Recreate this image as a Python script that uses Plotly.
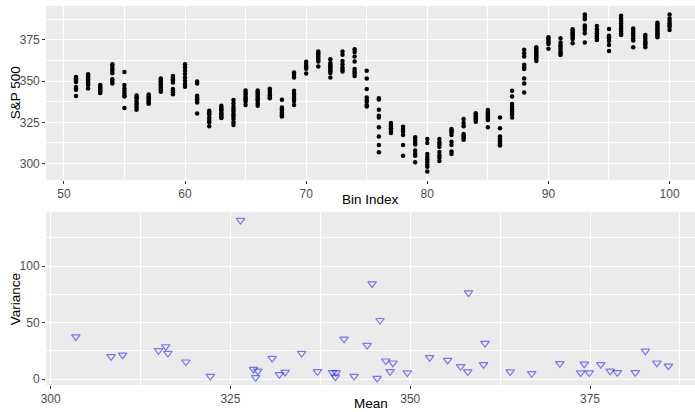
import plotly.graph_objects as go

# S&P 500 closing levels grouped by bin
bin_index = list(range(51, 101))
sp500_by_bin = [
    [352.5, 351.8, 351.0, 350.2, 349.5, 346.5, 345.5, 344.8, 341.0],
    [354.2, 353.2, 352.2, 351.2, 350.2, 349.2, 348.2, 347.6, 345.6],
    [347.6, 346.8, 346.0, 345.2, 344.4, 343.6, 342.8],
    [360.3, 359.3, 357.7, 356.3, 354.8, 351.2, 349.8, 348.6],
    [355.6, 347.6, 345.5, 344.0, 342.5, 341.2, 340.7, 333.7],
    [341.3, 340.2, 339.5, 338.0, 336.5, 335.5, 334.0, 332.7],
    [341.9, 341.0, 340.2, 339.3, 338.5, 337.7, 336.9, 336.3],
    [351.6, 350.8, 350.0, 349.0, 348.0, 347.0, 346.0, 345.0, 343.6],
    [353.2, 352.2, 351.2, 350.2, 349.2, 345.2, 344.2, 343.2, 342.1],
    [360.3, 358.3, 356.3, 354.3, 352.2, 350.2, 348.2, 346.6],
    [349.8, 348.6, 341.1, 340.0, 339.0, 338.0, 337.1, 330.4],
    [332.1, 331.0, 330.0, 328.0, 326.5, 325.0, 322.6],
    [335.1, 334.0, 333.0, 332.0, 331.0, 330.0, 329.0, 328.0, 327.6],
    [338.5, 336.5, 334.5, 333.0, 331.5, 330.0, 328.5, 327.0, 325.0, 323.4],
    [344.4, 343.0, 342.0, 340.5, 339.5, 338.5, 337.5, 335.5],
    [344.4, 343.2, 342.0, 341.0, 340.0, 339.0, 338.0, 336.5, 335.1],
    [345.4, 344.2, 342.8, 341.4, 340.5, 339.7],
    [338.7, 334.0, 333.0, 332.0, 331.0, 330.0, 329.0, 328.6],
    [355.2, 354.0, 352.2, 344.2, 342.5, 341.0, 339.5, 338.0, 335.5],
    [361.7, 360.5, 359.5, 358.5, 357.5, 354.6],
    [368.0, 367.0, 366.0, 365.0, 364.0, 363.0, 362.0, 358.9],
    [363.3, 361.0, 360.0, 359.0, 358.0, 357.0, 356.0, 355.0, 352.2],
    [368.0, 366.0, 362.3, 360.3, 358.3, 357.0, 355.8],
    [369.4, 367.7, 365.0, 361.9, 357.3, 355.8, 354.6, 353.2],
    [356.3, 351.6, 345.2, 340.1, 338.5, 337.5, 335.5, 334.7],
    [339.7, 338.8, 332.7, 329.0, 328.0, 322.0, 316.5, 311.3, 306.9],
    [324.6, 323.5, 322.5, 321.5, 320.5, 319.5, 318.6],
    [322.4, 321.0, 319.5, 317.3, 311.3, 304.8],
    [315.9, 314.5, 313.0, 311.5, 308.0, 306.0, 304.8, 300.8],
    [314.9, 312.5, 305.8, 304.0, 302.5, 301.0, 299.5, 298.0, 295.2],
    [314.9, 313.0, 311.5, 310.0, 307.0, 305.0, 303.5, 301.5],
    [321.0, 320.0, 319.0, 317.3, 313.3, 311.3, 307.3, 305.8],
    [327.0, 324.6, 322.6, 317.9, 317.0, 316.5, 315.5, 314.5],
    [330.6, 329.5, 328.5, 327.5, 326.5, 325.4],
    [332.5, 331.5, 330.5, 329.5, 328.5, 327.5, 326.5, 322.0],
    [328.0, 321.4, 316.5, 315.5, 314.5, 313.5, 312.5, 311.5, 310.9],
    [344.2, 340.7, 336.1, 334.5, 333.0, 331.5, 330.0, 328.0],
    [369.0, 367.0, 365.0, 360.0, 358.5, 357.3, 351.6, 348.6, 343.1],
    [370.6, 369.5, 368.5, 367.5, 366.5, 365.5, 364.5, 363.5, 362.3],
    [376.6, 375.5, 374.4, 373.5, 372.5, 369.6],
    [376.0, 373.5, 372.0, 371.0, 369.5, 368.0, 367.0, 365.9],
    [381.5, 380.5, 379.5, 378.5, 377.5, 376.5, 375.5, 373.0],
    [390.5, 389.0, 387.5, 383.7, 382.5, 381.0, 379.0, 373.4],
    [383.5, 381.5, 380.0, 379.0, 378.0, 377.0, 376.0, 375.0],
    [381.7, 377.6, 376.5, 375.5, 374.4, 372.0, 368.3],
    [389.7, 388.0, 386.5, 385.0, 383.5, 382.0, 380.5, 379.0, 378.0],
    [382.0, 380.4, 379.0, 377.5, 376.0, 374.6, 370.6],
    [378.0, 377.0, 375.5, 374.0, 373.0, 372.0, 370.6],
    [385.5, 384.5, 383.5, 382.5, 381.5, 380.5, 379.5, 378.5, 377.6, 376.6],
    [390.5, 388.0, 386.5, 385.0, 384.0, 383.0, 381.0],
]

# Per-bin mean and variance
bin_mean = [
    303.5, 308.4, 310.0, 315.0, 316.0, 316.3, 318.8, 322.2, 326.4,
    328.2, 328.8, 328.5, 330.8, 331.8, 332.6, 334.9, 337.1, 339.2,
    339.7, 339.6, 340.8, 342.2, 344.0, 344.7, 345.4, 345.8, 346.6,
    347.6, 347.2, 349.6, 352.7, 355.2, 357.0, 358.1, 358.0, 360.2,
    360.4, 363.9, 366.9, 370.8, 373.7, 374.2, 374.9, 376.5, 377.8,
    378.8, 381.3, 382.7, 384.3, 385.9,
]
bin_variance = [
    37.6, 20.0, 21.4, 25.3, 28.8, 22.9, 15.3, 2.6, 140.5,
    8.8, 7.3, 1.5, 18.5, 4.1, 6.2, 22.9, 6.8, 5.9,
    5.9, 2.0, 35.5, 2.6, 30.0, 84.4, 0.9, 52.0, 16.2,
    14.4, 6.8, 5.6, 19.1, 16.8, 11.2, 76.4, 6.5, 13.0,
    31.7, 6.5, 5.0, 13.8, 5.6, 13.5, 5.6, 13.0, 7.3,
    5.9, 5.9, 25.0, 14.4, 11.7,
]

W, H = 695, 412
FONT = "Liberation Sans, Arial, Helvetica, sans-serif"
PANEL_BG = "#EBEBEB"
TICK_COLOR = "#4D4D4D"

xs, ys = [], []
for b, vals in zip(bin_index, sp500_by_bin):
    xs.extend([b] * len(vals))
    ys.extend(vals)

fig = go.Figure()
fig.add_trace(go.Scatter(
    x=xs, y=ys, mode="markers", xaxis="x", yaxis="y",
    marker=dict(color="black", size=4.5, line=dict(width=0)),
    showlegend=False, hoverinfo="x+y",
))
fig.add_trace(go.Scatter(
    x=bin_mean, y=bin_variance, mode="markers", xaxis="x2", yaxis="y2",
    marker=dict(symbol="triangle-down-open", size=7.5,
                color="rgba(0,0,255,0.5)", line=dict(width=1.2)),
    showlegend=False, hoverinfo="x+y",
))


def px_x(p):
    return p / W


def px_y(p):
    return 1 - p / H


def axis(domain, rng, dtick, minor_dtick, anchor):
    return dict(
        domain=domain, range=rng, anchor=anchor,
        tick0=0, dtick=dtick,
        showgrid=True, gridcolor="white", gridwidth=1.3,
        minor=dict(tick0=0, dtick=minor_dtick, showgrid=True,
                   gridcolor="white", gridwidth=0.6),
        zeroline=False, showline=False,
        ticks="outside", ticklen=3, tickwidth=1, tickcolor="#333333",
        tickfont=dict(family=FONT, size=12, color=TICK_COLOR),
        fixedrange=True,
    )


top_x_dom = [px_x(41.5), 1.0]
top_y_dom = [px_y(180), px_y(6)]
bot_x_dom = [px_x(41.3), 1.0]
bot_y_dom = [px_y(386), px_y(213)]

TITLE_FONT = dict(family=FONT, size=13.5, color="black")

fig.update_layout(
    width=W, height=H,
    margin=dict(l=0, r=0, t=0, b=0),
    paper_bgcolor="white",
    plot_bgcolor=PANEL_BG,
    xaxis=axis(top_x_dom, [48.54, 102.1], 10, 5, "y"),
    yaxis=axis(top_y_dom, [290.3, 395.6], 25, 12.5, "x"),
    xaxis2=axis(bot_x_dom, [299.35, 389.6], 25, 12.5, "y2"),
    yaxis2=axis(bot_y_dom, [-5.2, 147.4], 50, 25, "x2"),
    shapes=[
        dict(type="rect", xref="paper", yref="paper", layer="below",
             x0=top_x_dom[0], x1=top_x_dom[1], y0=top_y_dom[0], y1=top_y_dom[1],
             fillcolor=PANEL_BG, line=dict(width=0)),
        dict(type="rect", xref="paper", yref="paper", layer="below",
             x0=bot_x_dom[0], x1=bot_x_dom[1], y0=bot_y_dom[0], y1=bot_y_dom[1],
             fillcolor=PANEL_BG, line=dict(width=0)),
    ],
    annotations=[
        dict(text="Bin Index", xref="paper", yref="paper",
             x=(top_x_dom[0] + top_x_dom[1]) / 2, y=px_y(200),
             showarrow=False, xanchor="center", yanchor="middle",
             font=TITLE_FONT),
        dict(text="S&P 500", xref="paper", yref="paper",
             x=px_x(10.5), y=(top_y_dom[0] + top_y_dom[1]) / 2, textangle=-90,
             showarrow=False, xanchor="center", yanchor="middle",
             font=TITLE_FONT),
        dict(text="Mean", xref="paper", yref="paper",
             x=(bot_x_dom[0] + bot_x_dom[1]) / 2, y=px_y(404),
             showarrow=False, xanchor="center", yanchor="middle",
             font=TITLE_FONT),
        dict(text="Variance", xref="paper", yref="paper",
             x=px_x(10.5), y=(bot_y_dom[0] + bot_y_dom[1]) / 2, textangle=-90,
             showarrow=False, xanchor="center", yanchor="middle",
             font=TITLE_FONT),
    ],
)

fig.write_html("out.html")
